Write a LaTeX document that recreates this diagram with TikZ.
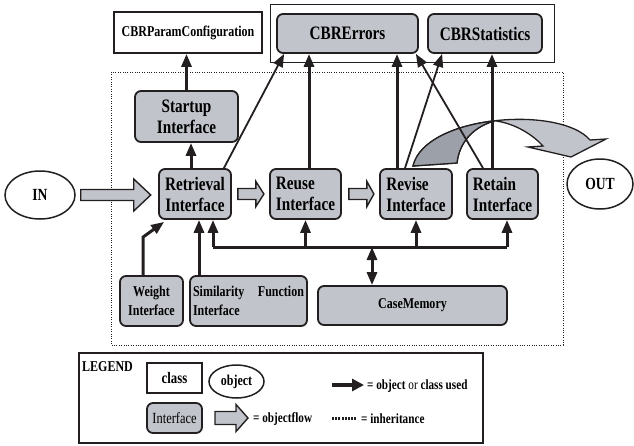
\documentclass[tikz,border=0pt]{standalone}
\usepackage{fontspec}
\setmainfont{Liberation Serif}[FakeStretch=0.8]
\usetikzlibrary{arrows.meta,shapes.geometric}
\definecolor{ifacegray}{RGB}{193,196,203}
\definecolor{ribbondark}{RGB}{156,161,169}
\definecolor{inkblack}{RGB}{35,31,32}

\begin{document}
\begin{tikzpicture}[x=1pt,y=-1pt,
    every node/.style={inner sep=0pt, align=center,
      font=\bfseries\fontsize{19}{21}\selectfont},
    cls/.style={shape=rectangle, draw=inkblack, line width=1.8pt, fill=white},
    iface/.style={shape=rectangle, rounded corners=6pt, draw=inkblack,
      line width=1.8pt, fill=ifacegray},
    obj/.style={shape=ellipse, draw=inkblack, line width=1.5pt, fill=white},
    small/.style={font=\bfseries\fontsize{15}{19}\selectfont},
    uses/.style={line width=3pt, draw=inkblack, -{Triangle[length=13pt,width=10pt]}},
    thinuses/.style={line width=1.8pt, draw=inkblack, -{Triangle[length=13pt,width=10pt]}},
    flow/.style={draw=inkblack, line width=1.4pt, fill=ifacegray, line join=miter},
    pics/flowarrow/.style args={#1/#2/#3/#4/#5}{code={
      \path[flow] (#1,-#5) -- (#2,-#5) -- (#2,-#4) -- (#3,0) -- (#2,#4)
        -- (#2,#5) -- (#1,#5) -- cycle;}}]
  \useasboundingbox (0,0) rectangle (634,445);

  % containers
  \draw[inkblack, line width=0.7pt] (270,4) rectangle (554,62);
  \draw[inkblack, line width=0.8pt, dash pattern=on 0.8pt off 1.6pt] (111,72) rectangle (563,345);

  % the big objectflow to OUT
  \filldraw[fill=ifacegray, draw=inkblack, line width=1.3pt, line join=miter]
    (413,166) .. controls (425,115) and (560,105) .. (590,140) -- (606,139)
    -- (571,157) -- (528,147) -- (543,146) .. controls (530,132) and (512,123) .. (494.75,120.75)
    .. controls (470,128) and (459,145) .. (457,163) -- cycle;
  \filldraw[fill=ribbondark, draw=inkblack, line width=1.3pt]
    (413,166) .. controls (419,140.5) and (455.75,125.25) .. (494.75,120.75)
    .. controls (470,128) and (459,145) .. (457,163) -- cycle;

  % classes and interfaces
  \node[cls, minimum width=148pt, minimum height=41pt,
    font=\bfseries\fontsize{15}{18}\selectfont] (param) at (188,32.5) {CBRParamConfiguration};
  \node[iface, minimum width=141pt, minimum height=39pt] (errors) at (347.5,33.5) {CBRErrors};
  \node[iface, minimum width=114pt, minimum height=39pt] (stats) at (485,33.5) {CBRStatistics};
  \node[iface, minimum width=103pt, minimum height=51pt] (startup) at (186.5,116.5) {Startup\\Interface};
  \node[iface, minimum width=72pt, minimum height=50pt] (retrieval) at (195,194) {Retrieval\\Interface};
  \node[iface, minimum width=71pt, minimum height=50pt, align=left] (reuse) at (305.5,194) {Reuse\\Interface};
  \node[iface, minimum width=72pt, minimum height=50pt, align=left] (revise) at (416,194) {Revise\\Interface};
  \node[iface, minimum width=71pt, minimum height=50pt, align=left] (retain) at (502.5,194) {Retain\\Interface};
  \node[iface, small, minimum width=63pt, minimum height=50pt] (weight) at (151.5,301) {Weight\\Interface};
  \node[iface, small, minimum width=117pt, minimum height=50pt, text width=111pt, align=left]
    (simfunc) at (248.5,301) {Similarity\hfill Function\\Interface};
  \node[iface, small, minimum width=189pt, minimum height=39pt] (casemem) at (412.5,305.5) {CaseMemory};

  % objects
  \node[obj, minimum width=70pt, minimum height=48pt,
    font=\bfseries\fontsize{17}{20}\selectfont] (inobj) at (40,195) {IN};
  \node[obj, minimum width=66pt, minimum height=50pt,
    font=\bfseries\fontsize{17}{20}\selectfont] (outobj) at (600,184) {OUT};

  % objectflow
  \pic at (inobj.east) {flowarrow={5/58/75/16/5.5}};
  \pic at (retrieval.east) {flowarrow={6/24/32/12.5/5.5}};
  \pic at (reuse.east) {flowarrow={7/25/32/12.5/5.5}};

  % used classes
  \draw[uses] (startup.north) -- (startup.north |- param.south);
  \draw[uses] ([xshift=-4pt]retrieval.north) -- ([xshift=-4pt]retrieval.north |- startup.south);
  \draw[thinuses] ([xshift=-8pt]retrieval.north east) -- ([xshift=8pt]errors.south west);
  \draw[uses] ([xshift=3.5pt]reuse.north) -- ([xshift=3.5pt]reuse.north |- errors.south);
  \draw[uses] ([xshift=-19pt]revise.north) -- ([xshift=-19pt]revise.north |- errors.south);
  \draw[thinuses] ([xshift=-11pt]revise.north) -- ([xshift=15pt]stats.south west);
  \draw[thinuses] ([xshift=-19.5pt]retain.north) -- ([xshift=-3pt]errors.south east);
  \draw[uses] ([xshift=-10.5pt]retain.north) -- ([xshift=-10.5pt]retain.north |- stats.south);

  % case memory bus
  \coordinate (busL) at (213,247);
  \coordinate (busR) at (507,247);
  \draw[inkblack, line width=3pt] (busL) -- (busR);
  \draw[uses] (busL) -- (busL |- retrieval.south);
  \draw[uses] (reuse.south |- busL) -- (reuse.south);
  \draw[uses] (revise.south |- busL) -- (revise.south);
  \draw[uses] (busR) -- (busR |- retain.south);
  \draw[uses, {Triangle[length=13pt,width=10pt]}-{Triangle[length=13pt,width=10pt]}]
    ([xshift=-40.5pt]casemem.north) -- ([xshift=-40.5pt]casemem.north |- busL);
  \draw[uses] ([xshift=-49.5pt]simfunc.north) -- ([xshift=-49.5pt]simfunc.north |- retrieval.south);
  \draw[uses] ([xshift=-8.5pt]weight.north) -- ++(0,-38) -- ([xshift=6pt,yshift=-2pt]retrieval.south west);

  % legend
  \node[draw=inkblack, line width=2.4pt, minimum width=404pt, minimum height=90pt] (legend) at (281,398) {};
  \node[small, anchor=west] (legtitle) at (82,367) {LEGEND};
  \node[cls, minimum width=55pt, minimum height=30pt,
    font=\bfseries\fontsize{16}{19}\selectfont] (legclass) at (174.5,378) {class};
  \node[obj, minimum width=55pt, minimum height=33pt, small] (legobj) at (236.5,381.5) {object};
  \node[iface, minimum width=55pt, minimum height=30pt,
    font=\mdseries\fontsize{15.5}{19}\selectfont] (legiface) at (174.5,418) {Interface};
  \coordinate (legflow) at (215,418);
  \pic at (legflow) {flowarrow={0/21/33/13.5/6.5}};
  \node[anchor=west, font=\bfseries\fontsize{14}{17}\selectfont] (legflowtxt) at (253,419) {= objectflow};
  \coordinate (legusesA) at (332,385);
  \coordinate (legusesB) at (364,385);
  \draw[line width=4pt, draw=inkblack, -{Triangle[length=12pt,width=12pt]}] (legusesA) -- (legusesB);
  \node[anchor=west, font=\bfseries\fontsize{14}{17}\selectfont] (legusestxt) at (367,386)
    {= object {\mdseries or} class used};
  \coordinate (leginhA) at (332,418);
  \coordinate (leginhB) at (357,418);
  \draw[line width=3pt, draw=inkblack, dash pattern=on 2pt off 1.2pt] (leginhA) -- (leginhB);
  \node[anchor=west, font=\bfseries\fontsize{14}{17}\selectfont] (leginhtxt) at (361,419) {= inheritance};
\end{tikzpicture}
\end{document}
